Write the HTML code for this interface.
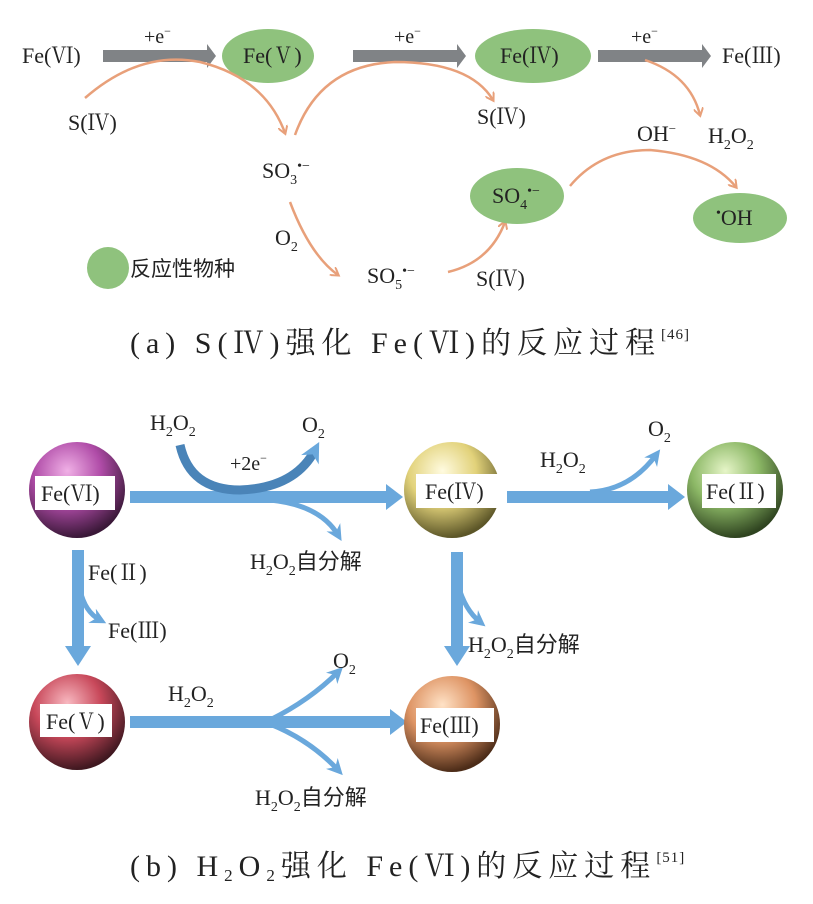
<!DOCTYPE html>
<html><head><meta charset="utf-8"><style>
html,body{margin:0;padding:0;background:#fff;}
svg{display:block;}
text{font-family:"Liberation Serif","Noto Serif CJK SC",serif;fill:#222;}
.cj{font-family:"Liberation Serif","Noto Sans CJK SC",sans-serif;}
</style></head><body>
<svg width="813" height="904" viewBox="0 0 813 904" xmlns="http://www.w3.org/2000/svg">
<defs>
<marker id="oa" markerWidth="10" markerHeight="10" refX="7" refY="5" orient="auto" markerUnits="userSpaceOnUse">
<path d="M0,0 L8,5 L0,10" fill="none" stroke="#e8a07a" stroke-width="2"/></marker>
<marker id="ba" markerWidth="18" markerHeight="18" refX="9" refY="9" orient="auto" markerUnits="userSpaceOnUse">
<path d="M0,1 L16,9 L0,17 L5,9 Z" fill="#6aa8dc"/></marker>
<marker id="bb" markerWidth="22" markerHeight="22" refX="11" refY="11" orient="auto" markerUnits="userSpaceOnUse">
<path d="M0,1 L20,11 L0,21 L6,11 Z" fill="#6aa8dc"/></marker>
<radialGradient id="g1" cx="0.4" cy="0.3" r="0.7"><stop offset="0" stop-color="#f0b0e6"/><stop offset="0.5" stop-color="#b04ca8"/><stop offset="1" stop-color="#3a1838"/></radialGradient>
<radialGradient id="g2" cx="0.4" cy="0.3" r="0.7"><stop offset="0" stop-color="#fffbe0"/><stop offset="0.5" stop-color="#e2d27a"/><stop offset="1" stop-color="#5c5628"/></radialGradient>
<radialGradient id="g3" cx="0.4" cy="0.3" r="0.7"><stop offset="0" stop-color="#e6f5c8"/><stop offset="0.5" stop-color="#8cb866"/><stop offset="1" stop-color="#2f4420"/></radialGradient>
<radialGradient id="g4" cx="0.4" cy="0.3" r="0.7"><stop offset="0" stop-color="#f8b8c0"/><stop offset="0.5" stop-color="#c8485a"/><stop offset="1" stop-color="#401820"/></radialGradient>
<radialGradient id="g5" cx="0.4" cy="0.3" r="0.7"><stop offset="0" stop-color="#ffe2c6"/><stop offset="0.5" stop-color="#de9464"/><stop offset="1" stop-color="#4c2c18"/></radialGradient>
</defs>

<!-- Part (a) -->
<g font-size="22">
<text x="22" y="63">Fe(Ⅵ)</text>
<path d="M103,50 H207 V44 L216,56 L207,68 V62 H103Z" fill="#808386"/>
<text x="144" y="43" font-size="20">+e<tspan font-size="12" dy="-8">−</tspan></text>
<ellipse cx="268" cy="56" rx="46" ry="27" fill="#8fc27d"/>
<text x="243" y="63">Fe(Ⅴ)</text>
<path d="M353,50 H457 V44 L466,56 L457,68 V62 H353Z" fill="#808386"/>
<text x="394" y="43" font-size="20">+e<tspan font-size="12" dy="-8">−</tspan></text>
<ellipse cx="533" cy="56" rx="58" ry="27" fill="#8fc27d"/>
<text x="500" y="63">Fe(Ⅳ)</text>
<path d="M598,50 H702 V44 L711,56 L702,68 V62 H598Z" fill="#808386"/>
<text x="631" y="43" font-size="20">+e<tspan font-size="12" dy="-8">−</tspan></text>
<text x="722" y="63">Fe(Ⅲ)</text>

<g fill="none" stroke="#e8a07a" stroke-width="2.5">
<path d="M85,98 Q140,50 200,62 Q265,78 285,133" marker-end="url(#oa)"/>
<path d="M295,135 Q320,65 395,62 Q470,62 493,100" marker-end="url(#oa)"/>
<path d="M645,60 Q690,75 700,115" marker-end="url(#oa)"/>
<path d="M290,202 Q310,255 338,275" marker-end="url(#oa)"/>
<path d="M448,272 Q490,262 505,222" marker-end="url(#oa)"/>
<path d="M570,186 Q600,150 650,150 Q710,155 736,187" marker-end="url(#oa)"/>
</g>
<text x="68" y="130">S(Ⅳ)</text>
<text x="477" y="124">S(Ⅳ)</text>
<text x="637" y="141">OH<tspan font-size="13" dy="-8">−</tspan></text>
<text x="708" y="143">H<tspan font-size="14" dy="6">2</tspan><tspan dy="-6">O</tspan><tspan font-size="14" dy="6">2</tspan></text>
<text x="262" y="178">SO<tspan font-size="14" dy="6">3</tspan><tspan font-size="14" dy="-14">•−</tspan></text>
<ellipse cx="517" cy="196" rx="47" ry="28" fill="#8fc27d"/>
<text x="492" y="203">SO<tspan font-size="14" dy="6">4</tspan><tspan font-size="14" dy="-14">•−</tspan></text>
<ellipse cx="740" cy="218" rx="47" ry="25" fill="#8fc27d"/>
<text x="716" y="225"><tspan font-size="14" dy="-8">•</tspan><tspan dy="8">OH</tspan></text>
<text x="275" y="245">O<tspan font-size="14" dy="6">2</tspan></text>
<circle cx="108" cy="268" r="21" fill="#8fc27d"/>
<text x="130" y="276" class="cj" font-size="21">反应性物种</text>
<text x="367" y="283">SO<tspan font-size="14" dy="6">5</tspan><tspan font-size="14" dy="-14">•−</tspan></text>
<text x="476" y="286">S(Ⅳ)</text>
</g>
<text x="130" y="353" font-size="30" letter-spacing="6">(a) S(Ⅳ)强化 Fe(Ⅵ)的反应过程<tspan font-size="15" dy="-14" letter-spacing="1">[46]</tspan></text>

<!-- Part (b) -->
<g fill="#6aa8dc">
<path d="M130,491 H386 V484 L403,497 L386,510 V503 H130Z"/>
<path d="M507,491 H668 V484 L685,497 L668,510 V503 H507Z"/>
<path d="M130,716 H390 V709 L407,722 L390,735 V728 H130Z"/>
<path d="M72,550 H84 V646 H91 L78,666 L65,646 H72Z"/>
<path d="M451,552 H463 V646 H470 L457,666 L444,646 H451Z"/>
</g>
<g fill="none" stroke="#6aa8dc" stroke-linecap="butt">
<path d="M180,445 Q190,490 240,490 Q295,488 315,450" stroke-width="9" stroke="#4a84b8" marker-end="url(#bb)"/>
<path d="M270,500 Q320,505 338,535" stroke-width="5" marker-end="url(#ba)"/>
<path d="M590,492 Q630,490 656,455" stroke-width="5" marker-end="url(#ba)"/>
<path d="M80,590 Q85,612 100,620" stroke-width="5" marker-end="url(#ba)"/>
<path d="M458,585 Q465,610 480,622" stroke-width="5" marker-end="url(#ba)"/>
<path d="M270,720 Q310,700 338,672" stroke-width="5" marker-end="url(#ba)"/>
<path d="M270,724 Q310,740 338,770" stroke-width="5" marker-end="url(#ba)"/>
</g>
<circle cx="77" cy="490" r="48" fill="url(#g1)"/>
<circle cx="452" cy="490" r="48" fill="url(#g2)"/>
<circle cx="735" cy="490" r="48" fill="url(#g3)"/>
<circle cx="77" cy="722" r="48" fill="url(#g4)"/>
<circle cx="452" cy="724" r="48" fill="url(#g5)"/>
<g fill="#fff"><rect x="35" y="476" width="80" height="34"/><rect x="416" y="474" width="84" height="34"/><rect x="702" y="474" width="74" height="34"/><rect x="40" y="704" width="72" height="33"/><rect x="416" y="708" width="78" height="34"/></g>
<g font-size="22">
<text x="41" y="501">Fe(Ⅵ)</text>
<text x="425" y="499">Fe(Ⅳ)</text>
<text x="706" y="499">Fe(Ⅱ)</text>
<text x="46" y="729">Fe(Ⅴ)</text>
<text x="420" y="733">Fe(Ⅲ)</text>
<text x="150" y="430">H<tspan font-size="14" dy="6">2</tspan><tspan dy="-6">O</tspan><tspan font-size="14" dy="6">2</tspan></text>
<text x="302" y="432">O<tspan font-size="14" dy="6">2</tspan></text>
<text x="230" y="470" font-size="20">+2e<tspan font-size="12" dy="-8">−</tspan></text>
<text x="250" y="569" class="cj">H<tspan font-size="14" dy="6">2</tspan><tspan dy="-6">O</tspan><tspan font-size="14" dy="6">2</tspan><tspan dy="-6">自分解</tspan></text>
<text x="540" y="467">H<tspan font-size="14" dy="6">2</tspan><tspan dy="-6">O</tspan><tspan font-size="14" dy="6">2</tspan></text>
<text x="648" y="436">O<tspan font-size="14" dy="6">2</tspan></text>
<text x="88" y="580">Fe(Ⅱ)</text>
<text x="108" y="638">Fe(Ⅲ)</text>
<text x="468" y="652" class="cj">H<tspan font-size="14" dy="6">2</tspan><tspan dy="-6">O</tspan><tspan font-size="14" dy="6">2</tspan><tspan dy="-6">自分解</tspan></text>
<text x="333" y="668">O<tspan font-size="14" dy="6">2</tspan></text>
<text x="168" y="701">H<tspan font-size="14" dy="6">2</tspan><tspan dy="-6">O</tspan><tspan font-size="14" dy="6">2</tspan></text>
<text x="255" y="805" class="cj">H<tspan font-size="14" dy="6">2</tspan><tspan dy="-6">O</tspan><tspan font-size="14" dy="6">2</tspan><tspan dy="-6">自分解</tspan></text>
</g>
<text x="130" y="876" font-size="30" letter-spacing="6">(b) H<tspan font-size="17" dy="5">2</tspan><tspan dy="-5">O</tspan><tspan font-size="17" dy="5">2</tspan><tspan dy="-5">强化 Fe(Ⅵ)的反应过程</tspan><tspan font-size="15" dy="-14" letter-spacing="1">[51]</tspan></text>
</svg>
</body></html>
